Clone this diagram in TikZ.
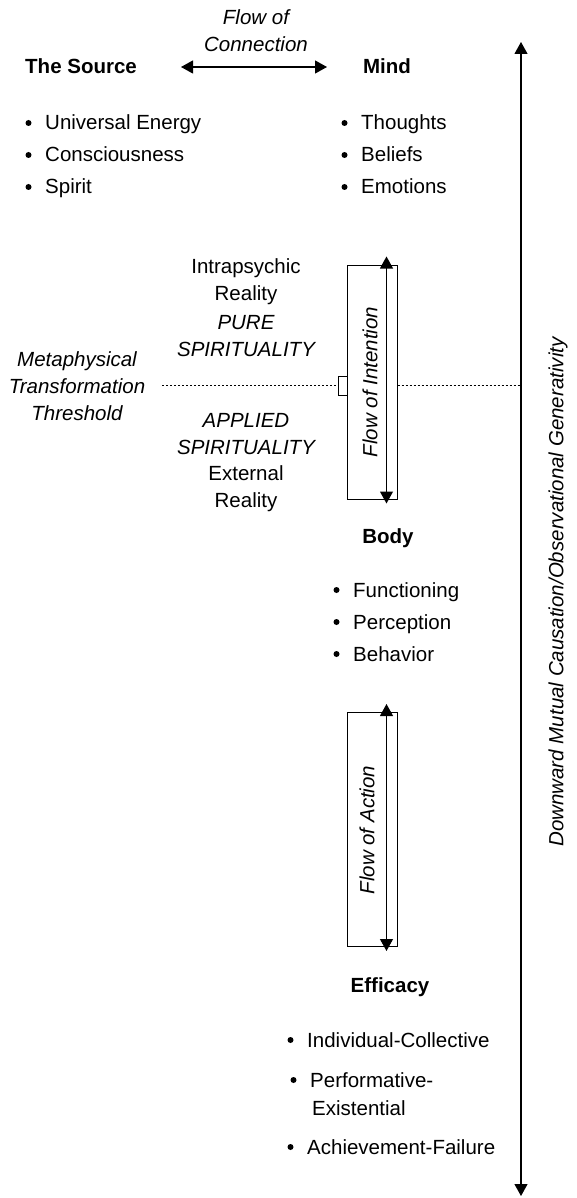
\documentclass[tikz,border=0pt]{standalone}
\usepackage{fontspec}
\setmainfont{Liberation Sans}
\usetikzlibrary{arrows.meta}
\begin{document}
\begin{tikzpicture}[x=1pt,y=-1pt,
  every node/.style={font=\fontsize{20.5}{27}\selectfont, inner sep=0pt},
  head/.style={font=\fontsize{20.5}{27}\selectfont\bfseries},
  itl/.style={font=\fontsize{20.5}{27}\selectfont\itshape},
  itemtext/.style={anchor=base west},
  flowbox/.style={draw, line width=1pt, minimum width=50pt, minimum height=234pt},
  dblarrow/.style={line width=1.1pt, {Triangle[width=13pt,length=12pt]}-{Triangle[width=13pt,length=12pt]}},
  thresh/.style={line width=1pt, dash pattern=on 2pt off 2pt}]

\useasboundingbox (0,0) rectangle (576,1198);

\newcommand{\bitem}[4]{%
  \node[itemtext] (#1) at (#2,#3) {#4};
  \fill (#1.base west) ++(-16.5,-7) circle (3pt);}

% --- top row: The Source <-> Mind
\node[head, anchor=base west] (source) at (25,74) {The Source};
\node[head, anchor=base] (mind) at (387,74) {Mind};
\coordinate (connL) at (181,67);
\coordinate (connR) at (327,67);
\draw[dblarrow] (connL) -- (connR);
\node[itl, align=center] (conn) at (256,31) {Flow of\\Connection};

\bitem{s1}{45}{130}{Universal Energy}
\bitem{s2}{45}{162}{Consciousness}
\bitem{s3}{45}{194}{Spirit}

\bitem{m1}{361}{130}{Thoughts}
\bitem{m2}{361}{162}{Beliefs}
\bitem{m3}{361}{194}{Emotions}

% --- flow of intention
\node[flowbox] (ibox) at (372,382) {};
\node[itl, rotate=90] (itext) at (370,382) {Flow of Intention};
\draw[dblarrow] ([xshift=-11pt,yshift=8pt]ibox.north east) -- ([xshift=-11pt,yshift=-4pt]ibox.south east);

\node[align=center] (intra) at (246,282) {Intrapsychic\\Reality};
\node[itl, align=center] (pure) at (246,336) {PURE\\SPIRITUALITY};
\node[itl, align=center] (applied) at (246,434) {APPLIED\\SPIRITUALITY};
\node[align=center] (external) at (246,489) {External\\Reality};

% --- threshold
\node[itl, align=center] (meta) at (77,386) {Metaphysical\\Transformation\\Threshold};
\node[draw, line width=1pt, minimum width=9pt, minimum height=19pt, anchor=east] (tick) at (348,385.5) {};
\coordinate (thrL) at (162,385.5);
\coordinate (thrR) at (521,385.5);
\draw[thresh] (thrL) -- (tick.west);
\draw[thresh] (ibox.east |- tick) -- (thrR);

% --- body
\node[head, anchor=base] (body) at (388,543) {Body};
\bitem{b1}{353}{597}{Functioning}
\bitem{b2}{353}{629}{Perception}
\bitem{b3}{353}{661}{Behavior}

% --- flow of action
\node[flowbox] (abox) at (372,829.5) {};
\node[itl, rotate=90] (atext) at (367,830) {Flow of Action};
\draw[dblarrow] ([xshift=-11pt,yshift=8pt]abox.north east) -- ([xshift=-11pt,yshift=-4pt]abox.south east);

% --- efficacy
\node[head, anchor=base] (efficacy) at (390,992) {Efficacy};
\bitem{e1}{307}{1047}{Individual-Collective}
\bitem{e2}{310}{1087}{Performative-}
\node[itemtext] (e2b) at (312,1115) {Existential};
\bitem{e3}{307}{1154}{Achievement-Failure}

% --- vertical axis
\coordinate (axtop) at (521,42);
\coordinate (axbot) at (521,1196);
\draw[dblarrow] (axtop) -- (axbot);
\node[itl, rotate=90] (axlabel) at (558,592) {Downward Mutual Causation/Observational Generativity};

\end{tikzpicture}
\end{document}
